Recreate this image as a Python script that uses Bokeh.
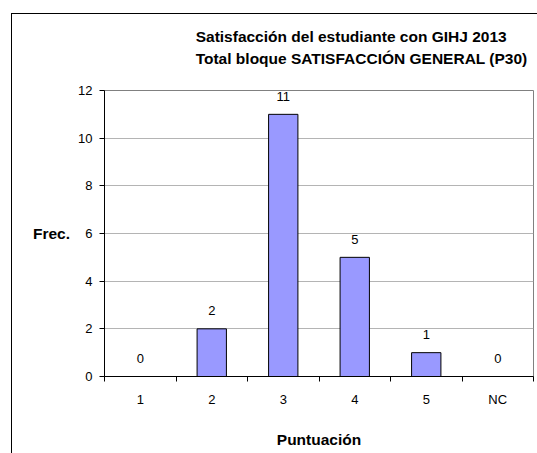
from bokeh.plotting import figure
from bokeh.models import (Range1d, FixedTicker, LabelSet, ColumnDataSource, Title)
from bokeh.core.properties import value
from bokeh.embed import file_html
from bokeh.resources import INLINE

# ---- data ----
categories = ["1", "2", "3", "4", "5", "NC"]
frequencies = [0, 2, 11, 5, 1, 0]
y_ticks = [0, 2, 4, 6, 8, 10, 12]
title_line1 = "Satisfacción del estudiante con GIHJ 2013"
title_line2 = "Total bloque SATISFACCIÓN GENERAL (P30)"
x_title = "Puntuación"
y_title = "Frec."

positions = list(range(1, len(categories) + 1))
boundaries = [p - 0.5 for p in positions] + [positions[-1] + 0.5]

FONT = "Liberation Sans"

p = figure(width=537, height=453, output_backend="svg", toolbar_location=None,
           x_range=Range1d(0.5, len(categories) + 0.5), y_range=Range1d(0, 12),
           min_border_left=104, min_border_right=4, min_border_top=90,
           min_border_bottom=77, background_fill_color="white",
           border_fill_color=None)

# outer chart border (drawn by the page behind the transparent border area)
p.styles = {
    "background": ("linear-gradient(#000,#000) 11px 13px / 1px 100% no-repeat, "
                   "linear-gradient(#000,#000) 11px 13px / 100% 1px no-repeat, #ffffff"),
}

p.outline_line_color = "#808080"
p.outline_line_width = 1

src = ColumnDataSource(dict(x=positions, top=frequencies,
                            label=[str(v) for v in frequencies]))
p.vbar(x="x", top="top", width=0.41, source=src, fill_color="#9999ff",
       line_color="black", line_width=1)

labels = LabelSet(x="x", y="top", text="label", source=src, text_align="center",
                  text_baseline="middle", y_offset=18, text_font=value(FONT),
                  text_font_size="13px", text_color="black")
p.add_layout(labels)

# title (two lines)
p.add_layout(Title(text=title_line1 + "\n" + title_line2, align="right", offset=6,
                   standoff=46, text_font=FONT, text_font_size="15.5px",
                   text_font_style="bold", text_color="black",
                   text_line_height=1.3), "above")

# grid
p.xgrid.grid_line_color = None
p.ygrid.grid_line_color = "#b4b4b4"
p.ygrid.ticker = FixedTicker(ticks=y_ticks)

# y axis
yax = p.yaxis[0]
yax.ticker = FixedTicker(ticks=y_ticks)
yax.axis_line_color = "black"
yax.major_tick_out = 5
yax.major_tick_in = 0
yax.major_tick_line_color = "black"
yax.minor_tick_line_color = None
yax.major_label_standoff = 7
yax.major_label_text_font = FONT
yax.major_label_text_font_size = "13px"
yax.major_label_text_color = "black"
yax.axis_label = y_title
yax.axis_label_orientation = "horizontal"
yax.axis_label_standoff = 5
yax.axis_label_text_font = FONT
yax.axis_label_text_font_size = "15.5px"
yax.axis_label_text_font_style = "bold"
yax.axis_label_text_color = "black"

# x axis
xax = p.xaxis[0]
xax.ticker = FixedTicker(ticks=positions, minor_ticks=boundaries)
xax.major_label_overrides = {pos: c for pos, c in zip(positions, categories)}
xax.axis_line_color = "black"
xax.major_tick_line_color = None
xax.major_tick_out = 5
xax.major_tick_in = 0
xax.minor_tick_line_color = "black"
xax.minor_tick_out = 5
xax.minor_tick_in = 0
xax.major_label_standoff = 10
xax.major_label_text_font = FONT
xax.major_label_text_font_size = "13px"
xax.major_label_text_color = "black"
xax.axis_label = x_title
xax.axis_label_standoff = 21
xax.axis_label_text_font = FONT
xax.axis_label_text_font_size = "15.5px"
xax.axis_label_text_font_style = "bold"
xax.axis_label_text_color = "black"

open("out.html", "w").write(file_html(p, INLINE))
